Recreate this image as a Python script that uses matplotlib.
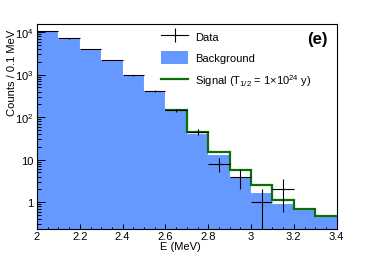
import matplotlib
matplotlib.use("Agg")
import matplotlib.pyplot as plt
import numpy as np
from matplotlib.lines import Line2D
from matplotlib.patches import Patch
from matplotlib.ticker import FixedLocator, FuncFormatter, LogLocator, NullFormatter

plt.rcParams.update({
    "font.family": ["Liberation Sans", "DejaVu Sans"],
    "font.size": 8,
    "mathtext.fontset": "custom",
    "mathtext.rm": "Liberation Sans",
    "mathtext.it": "Liberation Sans:italic",
    "mathtext.bf": "Liberation Sans:bold",
})

# Bin edges (MeV), 0.1 MeV bins
edges = [2.0, 2.1, 2.2, 2.3, 2.4, 2.5, 2.6, 2.7, 2.8, 2.9, 3.0, 3.1, 3.2, 3.3, 3.4]

# Background counts per bin
background = [11000, 7100, 4000, 2200, 970, 410, 145, 42, 13.3, 4.2, 1.7, 0.93, 0.68, 0.48]

# Background + signal (only drawn from 2.6 MeV)
signal_edges = [2.6, 2.7, 2.8, 2.9, 3.0, 3.1, 3.2, 3.3, 3.4]
signal_total = [145, 45, 15.3, 5.65, 2.5, 1.13, 0.70, 0.48]

# Data points
data_x = [2.05, 2.15, 2.25, 2.35, 2.45, 2.55, 2.65, 2.75, 2.85, 2.95, 3.05, 3.15]
data_y = [10500, 7100, 4000, 2200, 970, 410, 145, 45, 8, 4, 1, 2]
data_err = [102.5, 84.3, 63.2, 46.9, 31.1, 20.2, 12.0, 6.7, 2.83, 2.0, 1.0, 1.41]

fig = plt.figure(figsize=(3.74, 2.55), dpi=100)
ax = fig.add_axes([0.099, 0.100, 0.801, 0.802])

ax.set_yscale("log")
ax.stairs(background, edges, fill=True, color="#6699ff", baseline=1e-3, zorder=1)
ax.stairs(background, edges, color="white", lw=0.8, baseline=None, zorder=2)
ax.stairs(signal_total, signal_edges, color="#0b6e0b", lw=1.6, baseline=None, zorder=3)
ax.errorbar(data_x, data_y, xerr=0.05, yerr=data_err, fmt="none",
            ecolor="black", elinewidth=0.8, capsize=0, zorder=4)

ax.set_xlim(2.0, 3.4)
ax.set_ylim(0.24, 15500)

ax.xaxis.set_major_locator(FixedLocator(np.arange(2.0, 3.41, 0.2)))
ax.xaxis.set_minor_locator(FixedLocator(np.arange(2.0, 3.41, 0.05)))
ax.xaxis.set_major_formatter(FuncFormatter(lambda v, p: f"{v:g}"))


def ylab(v, p):
    e = int(round(np.log10(v)))
    if e == 0:
        return "1"
    if e == 1:
        return "10"
    return f"$10^{{{e}}}$"


ax.yaxis.set_major_locator(LogLocator(base=10, numticks=10))
ax.yaxis.set_minor_locator(LogLocator(base=10, subs=np.arange(2, 10), numticks=20))
ax.yaxis.set_major_formatter(FuncFormatter(ylab))
ax.yaxis.set_minor_formatter(NullFormatter())

ax.tick_params(axis="x", which="major", direction="in", length=3.6, width=0.7, pad=1.5)
ax.tick_params(axis="x", which="minor", direction="in", length=1.8, width=0.7)
ax.tick_params(axis="y", which="major", direction="in", length=5.8, width=0.7, pad=2.5)
ax.tick_params(axis="y", which="minor", direction="in", length=3.0, width=0.7)
for s in ax.spines.values():
    s.set_linewidth(0.8)

ax.set_xlabel("E (MeV)")
ax.xaxis.set_label_coords(0.477, -0.062)
ax.set_ylabel("Counts / 0.1 MeV", loc="top")
ax.yaxis.set_label_coords(-0.068, 0.976)

handles = [
    Line2D([0], [0], color="black", lw=0.8, marker="|", markersize=10, markeredgewidth=0.8),
    Patch(facecolor="#6699ff", edgecolor="none"),
    Line2D([0], [0], color="#0b6e0b", lw=1.6),
]
labels = ["Data", "Background", "Signal (T$_{1/2}$ = 1$\\times$10$^{24}$ y)"]
ax.legend(handles, labels, loc="upper left", bbox_to_anchor=(0.40, 0.99),
          frameon=False, handlelength=2.4, handleheight=1.35, handletextpad=0.6,
          labelspacing=0.75, borderaxespad=0, fontsize=8)

ax.text(0.97, 0.93, "(e)", transform=ax.transAxes, ha="right", va="center",
        fontsize=12, fontweight="bold")

fig.savefig("out.png", dpi=100)
